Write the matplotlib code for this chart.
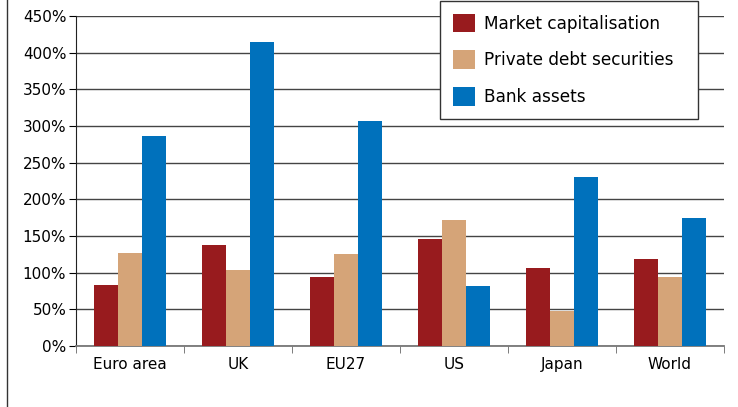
import numpy as np
import matplotlib.pyplot as plt
from matplotlib.lines import Line2D
from matplotlib.ticker import FuncFormatter

regions = ["Euro area", "UK", "EU27", "US", "Japan", "World"]
market_cap = [83, 138, 94, 146, 106, 119]
private_debt = [127, 104, 125, 172, 48, 94]
bank_assets = [286, 415, 307, 82, 230, 175]

series = [
    ("Market capitalisation", market_cap, "#981B1E"),
    ("Private debt securities", private_debt, "#D5A478"),
    ("Bank assets", bank_assets, "#0071BC"),
]

plt.rcParams["font.family"] = ["DejaVu Sans"]
fig = plt.figure(figsize=(7.38, 4.07), dpi=100)
ax = fig.add_axes([76 / 738, 1 - 346 / 407, (724 - 76) / 738, (346 - 16) / 407])

x = np.arange(len(regions))
width = 0.225
for i, (label, vals, color) in enumerate(series):
    ax.bar(x + (i - 1) * width, vals, width, color=color, label=label, zorder=3)

ax.set_xlim(-0.5, len(regions) - 0.5)
ax.set_ylim(0, 450)
ax.set_yticks(np.arange(0, 451, 50))
ax.yaxis.set_major_formatter(FuncFormatter(lambda v, p: f"{v:.0f}%"))
ax.yaxis.grid(True, color="#444444", linewidth=1, zorder=0)

ax.set_xticks(x)
ax.set_xticklabels(regions)
ax.set_xticks(np.arange(-0.5, len(regions), 1), minor=True)
ax.tick_params(axis="x", which="major", length=0, pad=8, labelsize=11)
ax.tick_params(axis="x", which="minor", length=5, color="#666666")
ax.tick_params(axis="y", length=5, labelsize=11, pad=2)

for s in ["top", "right"]:
    ax.spines[s].set_visible(False)
ax.spines["left"].set_color("#222222")
ax.spines["bottom"].set_color("#777777")
ax.spines["bottom"].set_linewidth(1.3)

leg = ax.legend(loc="upper left", mode="expand",
                bbox_to_anchor=(440 / 738, 1 - 118 / 407, 258 / 738, 117 / 407),
                bbox_transform=fig.transFigure, borderaxespad=0, fontsize=12.2,
                frameon=True, fancybox=False, edgecolor="#333333", framealpha=1,
                handlelength=1.3, handleheight=1.3, labelspacing=1.05,
                borderpad=0.75, handletextpad=0.55)
leg.get_frame().set_linewidth(1)

fig.add_artist(Line2D([7 / 738, 7 / 738], [0, 1], color="#333333", linewidth=1))

plt.savefig("out.png", dpi=100)
